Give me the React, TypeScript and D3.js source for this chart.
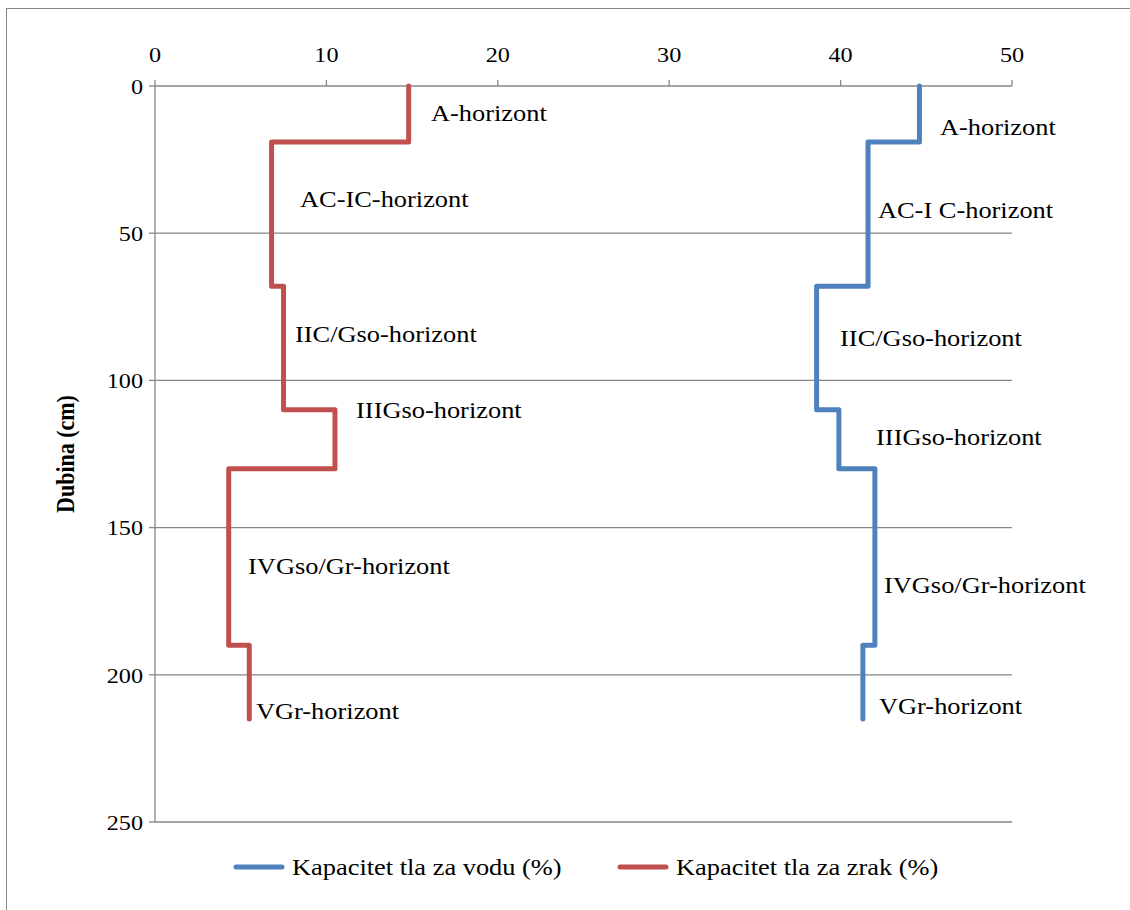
import React from "react";
import * as d3 from "d3";

const depths = [0, 19, 68, 110, 130, 190, 215];
const waterCapacity = [44.6, 41.6, 38.6, 39.9, 42.0, 41.3];
const airCapacity = [14.8, 6.8, 7.5, 10.5, 4.3, 5.5];
const xTicks = [0, 10, 20, 30, 40, 50];
const yTicks = [0, 50, 100, 150, 200, 250];

const airLabels = ["A-horizont", "AC-IC-horizont", "IIC/Gso-horizont", "IIIGso-horizont", "IVGso/Gr-horizont", "VGr-horizont"];
const airLabelX = [16.1, 8.46, 8.17, 11.73, 5.43, 5.89];
const airLabelDepth = [9.2, 38.4, 84.2, 110, 163, 212.3];
const waterLabels = ["A-horizont", "AC-I C-horizont", "IIC/Gso-horizont", "IIIGso-horizont", "IVGso/Gr-horizont", "VGr-horizont"];
const waterLabelX = [45.8, 42.18, 39.97, 42.07, 42.53, 42.24];
const waterLabelDepth = [13.9, 42.1, 85.6, 119.2, 169.5, 210.3];

const legendNames = ["Kapacitet tla za vodu (%)", "Kapacitet tla za zrak (%)"];
const BLUE = "#4F81BD";
const RED = "#C0504D";
const GRID = "#868686";
const FONT = "'Liberation Serif', 'Times New Roman', 'DejaVu Serif', serif";
const SX = 1.1;

function stepPoints(vals: number[]): [number, number][] {
  const pts: [number, number][] = [];
  vals.forEach((v, i) => {
    pts.push([v, depths[i]]);
    pts.push([v, depths[i + 1]]);
  });
  return pts;
}

function T(props: { x: number; y: number; size: number; anchor?: string; children: any; bold?: boolean; rotate?: number }) {
  const { x, y, size, anchor, children, bold, rotate } = props;
  return (
    <text
      transform={`translate(${x},${y}) scale(${SX},1)${rotate ? ` rotate(${rotate})` : ""}`}
      dy="0.35em"
      textAnchor={anchor || "start"}
      style={{ fontFamily: FONT, fontSize: size, fontWeight: bold ? "bold" : "normal" }}
      fill="#000"
    >
      {children}
    </text>
  );
}

export default function App() {
  const x = d3.scaleLinear().domain([0, 50]).range([155, 1012]);
  const y = d3.scaleLinear().domain([0, 250]).range([86, 822]);
  const line = d3
    .line<[number, number]>()
    .x((d) => x(d[0]))
    .y((d) => y(d[1]));

  return (
    <svg
      width={1130}
      height={910}
      style={{ position: "absolute", left: 0, top: 0, background: "#fff", fontFamily: FONT }}
    >
      <rect x={6.5} y={8.5} width={1140} height={920} fill="#fff" stroke={GRID} strokeWidth={1} />
      {yTicks.map((t) => (
        <line key={"g" + t} x1={x(0)} x2={x(50)} y1={y(t)} y2={y(t)} stroke={GRID} strokeWidth={1.3} />
      ))}
      <line x1={x(0)} x2={x(0)} y1={y(0)} y2={y(250)} stroke={GRID} strokeWidth={1.3} />
      {yTicks.map((t) => (
        <g key={"yt" + t}>
          <line x1={x(0) - 6} x2={x(0)} y1={y(t)} y2={y(t)} stroke={GRID} strokeWidth={1.3} />
          <T x={x(0) - 12} y={y(t)} size={22} anchor="end">{t}</T>
        </g>
      ))}
      {xTicks.map((t) => (
        <g key={"xt" + t}>
          <line x1={x(t)} x2={x(t)} y1={y(0) - 6} y2={y(0)} stroke={GRID} strokeWidth={1.3} />
          <T x={x(t)} y={y(0) - 32} size={22} anchor="middle">{t}</T>
        </g>
      ))}
      <text
        transform={`translate(66, ${(y(0) + y(250)) / 2}) scale(${SX},1) rotate(-90)`}
        textAnchor="middle"
        dy="0.35em"
        style={{ fontFamily: FONT, fontSize: 22, fontWeight: "bold" }}
        fill="#000"
      >
        Dubina (cm)
      </text>
      <path d={line(stepPoints(airCapacity)) || ""} fill="none" stroke={RED} strokeWidth={5} strokeLinejoin="round" strokeLinecap="round" />
      <path d={line(stepPoints(waterCapacity)) || ""} fill="none" stroke={BLUE} strokeWidth={5} strokeLinejoin="round" strokeLinecap="round" />
      {airLabels.map((l, i) => (
        <T key={"al" + i} x={x(airLabelX[i])} y={y(airLabelDepth[i])} size={24}>{l}</T>
      ))}
      {waterLabels.map((l, i) => (
        <T key={"wl" + i} x={x(waterLabelX[i])} y={y(waterLabelDepth[i])} size={24}>{l}</T>
      ))}
      {legendNames.map((n, i) => {
        const lx = i === 0 ? 236 : 620;
        return (
          <g key={"lg" + i}>
            <line x1={lx} x2={lx + 46} y1={867} y2={867} stroke={i === 0 ? BLUE : RED} strokeWidth={5} strokeLinecap="round" />
            <T x={lx + 56} y={867} size={24}>{n}</T>
          </g>
        );
      })}
    </svg>
  );
}
